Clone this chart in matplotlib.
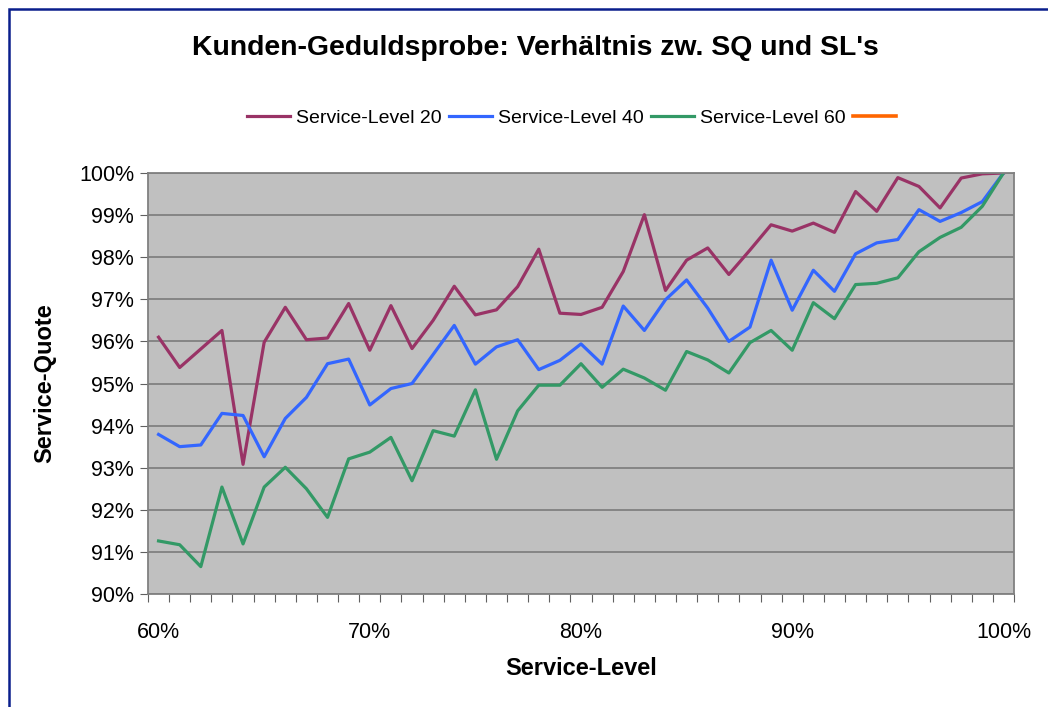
import numpy as np
import matplotlib.pyplot as plt
from matplotlib.patches import Rectangle
from matplotlib.ticker import FixedLocator

# Kunden-Geduldsprobe: service quote vs. service level

plt.rcParams['font.family'] = ['Liberation Sans', 'DejaVu Sans']

service_level = list(range(60, 101))  # 60% .. 100% in 1% steps

sl20 = [96.10, 95.38, 95.82, 96.26, 93.08, 95.98, 96.81, 96.04, 96.08, 96.90,
        95.79, 96.85, 95.83, 96.50, 97.31, 96.63, 96.75, 97.30, 98.19, 96.67,
        96.64, 96.81, 97.66, 99.01, 97.21, 97.93, 98.22, 97.59, 98.17, 98.77,
        98.62, 98.81, 98.59, 99.56, 99.09, 99.89, 99.68, 99.17, 99.88, 99.98,
        100.0]
sl40 = [93.79, 93.50, 93.54, 94.29, 94.24, 93.26, 94.17, 94.67, 95.47, 95.58,
        94.49, 94.88, 95.00, 95.69, 96.38, 95.46, 95.87, 96.04, 95.33, 95.55,
        95.94, 95.46, 96.84, 96.26, 96.99, 97.46, 96.79, 96.00, 96.34, 97.93,
        96.74, 97.69, 97.19, 98.08, 98.34, 98.42, 99.13, 98.85, 99.06, 99.32,
        100.0]
sl60 = [91.26, 91.17, 90.65, 92.54, 91.19, 92.54, 93.01, 92.50, 91.82, 93.21,
        93.37, 93.72, 92.69, 93.88, 93.75, 94.85, 93.20, 94.35, 94.96, 94.96,
        95.47, 94.91, 95.34, 95.13, 94.84, 95.76, 95.56, 95.25, 95.97, 96.26,
        95.79, 96.92, 96.54, 97.35, 97.38, 97.51, 98.13, 98.47, 98.71, 99.21,
        100.0]

series_names = ['Service-Level 20', 'Service-Level 40', 'Service-Level 60', ' ']
series_colors = ['#993366', '#3366FF', '#339966', '#FF6600']

fig = plt.figure(figsize=(10.48, 7.07), dpi=100)
ax = fig.add_axes([148 / 1048, 1 - 594 / 707, 866 / 1048, 421 / 707])

x = np.arange(len(service_level))
for vals, name, col in zip([sl20, sl40, sl60], series_names, series_colors):
    ax.plot(x, vals, color=col, lw=2.3, label=name)
# empty fourth series, only shown in the legend
ax.plot([], [], color=series_colors[3], lw=2.6, label=series_names[3])

ax.set_facecolor('#C0C0C0')
ax.set_xlim(-0.5, len(service_level) - 0.5)
ax.set_ylim(90, 100)

ax.set_yticks(np.arange(90, 101, 1))
ax.set_yticklabels([f'{v}%' for v in range(90, 101)])
major_x = [i for i, s in enumerate(service_level) if s % 10 == 0]
ax.set_xticks(major_x)
ax.set_xticklabels([f'{service_level[i]}%' for i in major_x])
ax.xaxis.set_minor_locator(FixedLocator(np.arange(-0.5, len(service_level), 1)))

ax.tick_params(axis='x', which='major', length=0, labelsize=15.5, pad=20)
ax.tick_params(axis='x', which='minor', length=6, color='#606060', width=0.8)
ax.tick_params(axis='y', length=6, color='#606060', width=0.8, labelsize=15.5, pad=4)

ax.grid(axis='y', color='#808080', lw=1.3)
ax.set_axisbelow(True)
for sp in ax.spines.values():
    sp.set_color('#808080')
    sp.set_linewidth(1.3)

ax.set_xlabel('Service-Level', fontsize=17, fontweight='bold', labelpad=10)
ax.set_ylabel('Service-Quote', fontsize=17, fontweight='bold', labelpad=16)

fig.text(535 / 1048, 1 - 48 / 707, "Kunden-Geduldsprobe: Verhältnis zw. SQ und SL's",
         ha='center', va='center', fontsize=20.4, fontweight='bold')

fig.legend(loc='center', bbox_to_anchor=(577 / 1048, 1 - 118 / 707), ncol=4,
           frameon=False, fontsize=14, handlelength=2.2, handletextpad=0.3,
           columnspacing=0.4)

# outer chart border (left and top edges visible)
fig.patches.append(Rectangle((8.5 / 1048, -0.05), 1.2, 1 - 8.5 / 707 + 0.05,
                             transform=fig.transFigure, fill=False,
                             edgecolor='#0A1E8C', lw=1.8))

fig.savefig('out.png', dpi=100)
